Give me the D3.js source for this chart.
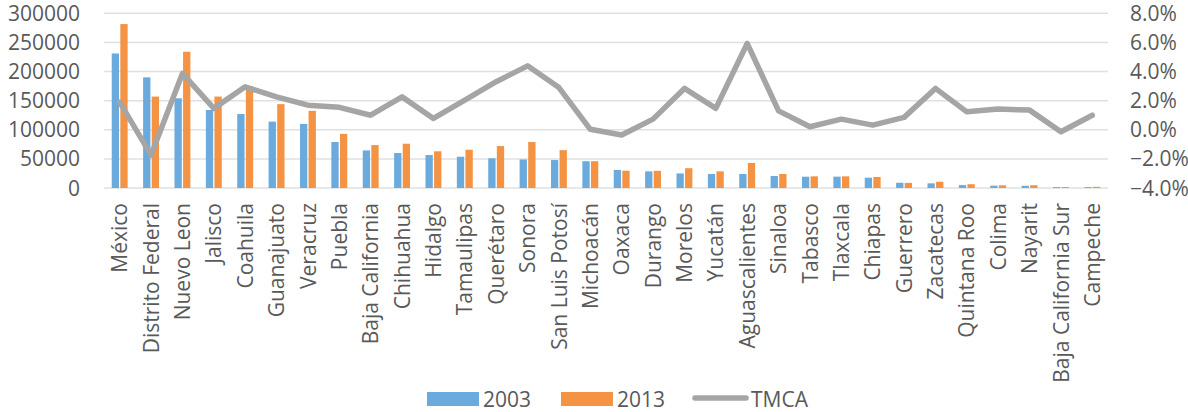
<!doctype html>
<html lang="es">
<head>
  <meta charset="utf-8" />
  <title>2003 vs 2013 por estado</title>
  <script src="https://d3js.org/d3.v7.min.js"></script>
  <style>
    body { margin: 0; background: #fff; }
    text { font-family: "Open Sans", sans-serif; fill: #595959; }
  </style>
</head>
<body>
  <div id="chart"></div>
  <script>
    // categories (states)
    const estados = ["México", "Distrito Federal", "Nuevo Leon", "Jalisco", "Coahuila", "Guanajuato",
      "Veracruz", "Puebla", "Baja California", "Chihuahua", "Hidalgo", "Tamaulipas", "Querétaro",
      "Sonora", "San Luis Potosí", "Michoacán", "Oaxaca", "Durango", "Morelos", "Yucatán",
      "Aguascalientes", "Sinaloa", "Tabasco", "Tlaxcala", "Chiapas", "Guerrero", "Zacatecas",
      "Quintana Roo", "Colima", "Nayarit", "Baja California Sur", "Campeche"];

    const v2003 = [231000, 190000, 154000, 134000, 127000, 114000, 110000, 79000, 64500, 60000,
      56600, 53700, 51000, 49000, 48000, 46000, 31000, 28600, 25000, 24000,
      24000, 20600, 19400, 19500, 17700, 9000, 8000, 5000, 4000, 3800, 1500, 1500];

    const v2013 = [281500, 157000, 234000, 157000, 175000, 144000, 132500, 93000, 73700, 76000,
      63000, 65700, 72000, 79000, 65000, 46000, 29700, 29500, 34000, 28600,
      43000, 24000, 20000, 20000, 19000, 8800, 10800, 6500, 4600, 4800, 1600, 2000];

    const tmca = [1.9, -1.74, 3.87, 1.47, 2.95, 2.26, 1.69, 1.54, 1.0, 2.26,
      0.78, 2.04, 3.3, 4.39, 2.9, 0.03, -0.36, 0.73, 2.84, 1.47,
      5.93, 1.3, 0.21, 0.73, 0.32, 0.85, 2.84, 1.23, 1.42, 1.35, -0.14, 1.0];

    const leftTicks = [0, 50000, 100000, 150000, 200000, 250000, 300000];
    const rightTicks = [-4, -2, 0, 2, 4, 6, 8];
    const series = ["2003", "2013"];

    const width = 1188, height = 412;
    const plot = { left: 104, right: 1108, top: 13.3, bottom: 188 };

    const svg = d3.select("#chart").append("svg")
      .attr("width", width)
      .attr("height", height);

    const x = d3.scaleBand()
      .domain(estados)
      .range([plot.left, plot.right])
      .padding(0);

    const xInner = d3.scaleBand()
      .domain(series)
      .range([0, x.bandwidth()])
      .paddingInner(0.15)
      .paddingOuter(0.9);

    const yLeft = d3.scaleLinear().domain([0, 300000]).range([plot.bottom, plot.top]);
    const yRight = d3.scaleLinear().domain([-4, 8]).range([plot.bottom, plot.top]);

    const colors = { "2003": "#6AAADC", "2013": "#F39343" };

    // gridlines
    svg.append("g")
      .selectAll("line")
      .data(leftTicks)
      .join("line")
      .attr("x1", plot.left)
      .attr("x2", plot.right)
      .attr("y1", d => yLeft(d))
      .attr("y2", d => yLeft(d))
      .attr("stroke", "#e0e0e0")
      .attr("stroke-width", 1.5);

    // left axis labels
    svg.append("g")
      .selectAll("text")
      .data(leftTicks)
      .join("text")
      .attr("x", 80)
      .attr("y", d => yLeft(d))
      .attr("dy", "0.36em")
      .attr("text-anchor", "end")
      .style("font-size", "21px")
      .text(d => d);

    // right axis labels
    svg.append("g")
      .selectAll("text")
      .data(rightTicks)
      .join("text")
      .attr("x", 1130)
      .attr("y", d => yRight(d))
      .attr("dy", "0.36em")
      .attr("text-anchor", "start")
      .style("font-size", "21px")
      .text(d => d3.format(".1f")(d) + "%");

    // bars
    const rows = estados.map((e, i) => ({ estado: e, "2003": v2003[i], "2013": v2013[i] }));

    svg.append("g")
      .selectAll("g")
      .data(rows)
      .join("g")
      .attr("transform", d => `translate(${x(d.estado)},0)`)
      .selectAll("rect")
      .data(d => series.map(s => ({ s: s, v: d[s] })))
      .join("rect")
      .attr("x", d => xInner(d.s))
      .attr("width", xInner.bandwidth())
      .attr("y", d => yLeft(d.v))
      .attr("height", d => yLeft(0) - yLeft(d.v))
      .attr("fill", d => colors[d.s]);

    // TMCA line
    const line = d3.line()
      .x((d, i) => x(estados[i]) + x.bandwidth() / 2)
      .y(d => yRight(d));

    svg.append("path")
      .datum(tmca)
      .attr("d", line)
      .attr("fill", "none")
      .attr("stroke", "#A5A5A5")
      .attr("stroke-width", 5.5)
      .attr("stroke-linejoin", "round")
      .attr("stroke-linecap", "round");

    // category labels
    svg.append("g")
      .selectAll("text")
      .data(estados)
      .join("text")
      .attr("transform", d => `translate(${x(d) + x.bandwidth() / 2}, 203) rotate(-90)`)
      .attr("dy", "0.36em")
      .attr("text-anchor", "end")
      .style("font-size", "21px")
      .text(d => d);

    // legend
    const legend = svg.append("g");
    legend.append("rect").attr("x", 427).attr("y", 392).attr("width", 52).attr("height", 14).attr("fill", colors["2003"]);
    legend.append("text").attr("x", 483).attr("y", 399).attr("dy", "0.36em").style("font-size", "21px").text(series[0]);
    legend.append("rect").attr("x", 561).attr("y", 392).attr("width", 52).attr("height", 14).attr("fill", colors["2013"]);
    legend.append("text").attr("x", 617).attr("y", 399).attr("dy", "0.36em").style("font-size", "21px").text(series[1]);
    legend.append("line").attr("x1", 695).attr("x2", 746).attr("y1", 398).attr("y2", 398)
      .attr("stroke", "#A5A5A5").attr("stroke-width", 5.5).attr("stroke-linecap", "round");
    legend.append("text").attr("x", 751).attr("y", 399).attr("dy", "0.36em").style("font-size", "21px").text("TMCA");
  </script>
</body>
</html>
